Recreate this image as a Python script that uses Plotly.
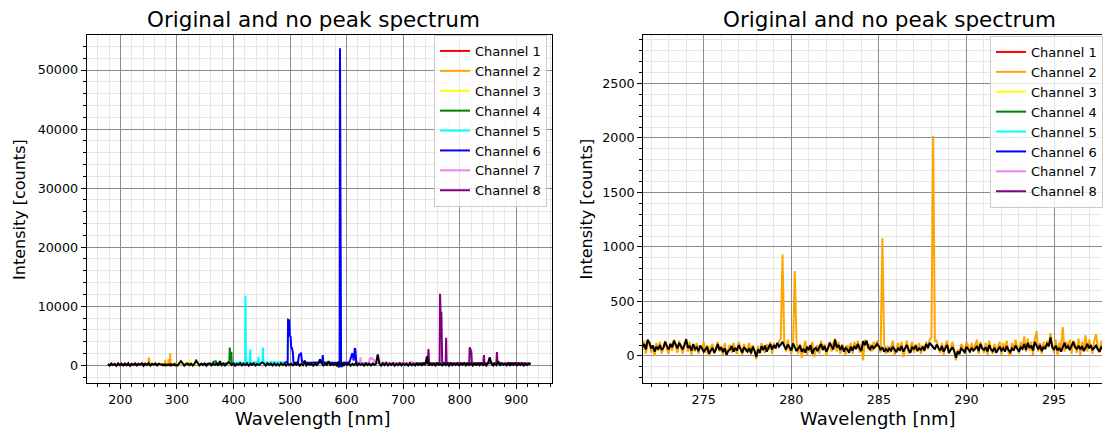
import numpy as np
import plotly.graph_objects as go

# ---------------- data ----------------
# "no peak" spectrum on a 3 nm grid (178 ... 925 nm)
NOPEAK_START = 178.0
NOPEAK_STEP = 3.0
nopeak_coarse = [
    220, -60, 310, 40, 260, -90, 330, 20, 280, -40,
    300, 10, 350, -80, 240, 60, 320, -30, 270, 80,
    340, -70, 290, 30, 360, -50, 250, 90, 310, -20,
    280, 150, 330, -60, 260, 40, 300, -10, 240, 70,
    320, -40, 270, 700, 350, -70, 230, 310, 20, 290,
    -50, 260, 800, 340, -30, 280, 50, 310, -80, 250,
    330, -20, 290, 60, 350, -60, 700, 10, 320, -40,
    270, 520, 340, 30, 300, -70, 260, 80, 350, -10,
    290, 20, 330, -50, 280, 70, 360, -30, 250, 40,
    310, 480, 270, -60, 340, 50, 290, -20, 320, 10,
    260, -40, 350, 60, 280, -70, 330, 30, 270, -10,
    300, 70, 340, -50, 260, 20, 600, -30, 310, 80,
    250, -60, 330, 40, 290, 1000, 350, -20, 270, 60,
    700, -40, 320, 30, 280, -70, 600, 50, 340, -10,
    290, 60, 350, -50, 260, 20, 330, -30, 300, 70,
    250, -60, 340, 40, 280, -20, 320, 60, 270, 1860,
    300, -50, 340, 20, 400, -30, 290, 70, 350, -60,
    260, 40, 330, -20, 300, 60, 270, -70, 350, 10,
    290, -40, 320, 50, 260, -10, 340, 30, 1500, -60,
    310, 20, 280, -50, 350, 60, 270, -30, 330, 40,
    290, -70, 340, 10, 260, 50, 320, -40, 300, 70,
    350, -20, 270, 30, 330, -60, 290, 60, 250, -10,
    320, 40, 280, -50, 340, 1350, 300, -30, 270, 20,
    700, -60, 330, 50, 290, -20, 350, 10, 260, 60,
    310, -40, 300, 30, 340, -70, 280, 40, 320, 150,
]

# finer 0.1 nm sampling between 271.5 and 298.0 nm
DETAIL_START = 271.5
DETAIL_STEP = 0.1
nopeak_detail = [
    80, 110, 60, 150, 120, 70, 95, 40, 85, 60,
    100, 55, 75, 130, 90, 60, 110, 80, 140, 95,
    70, 120, 85, 60, 100, 155, 75, 90, 50, 110,
    65, 80, 45, 95, 70, 40, 60, 85, 20, 50,
    75, 30, 60, 110, 55, 80, 35, 70, 10, 45,
    60, 90, 40, 75, 50, 100, 65, 30, 80, 55,
    40, 70, 25, 85, 50, -10, 60, 30, 90, 55,
    95, 40, 80, 110, 60, 100, 70, 120, 85, 110,
    130, 90, 60, 105, 75, 50, 115, 80, 45, 70,
    95, 40, 65, 30, 85, 55, 100, 20, 60, 75,
    45, 80, 110, 55, 90, 40, 70, 120, 85, 60,
    150, 80, 100, 55, 95, 40, 75, 60, 30, 85,
    50, 90, 65, 110, 70, 45, 135, 100, 140, 80,
    60, 95, 70, 85, 110, 90, 55, 80, 40, 65,
    45, 70, 50, 85, 60, 35, 75, 50, 90, 40,
    70, 100, 55, 30, 80, 65, 95, 45, 70, 55,
    85, 50, 110, 75, 120, 95, 80, 60, 105, 75,
    50, 90, 40, 70, 100, 30, 60, 80, 45, -15,
    40, 20, 70, 55, 35, 85, 60, 40, 75, 50,
    65, 90, 45, 110, 70, 55, 80, 40, 100, 60,
    45, 75, 30, 60, 85, 50, 70, 40, 90, 55,
    35, 70, 50, 95, 60, 40, 80, 65, 110, 55,
    120, 75, 95, 50, 130, 85, 60, 100, 45, 80,
    70, 110, 90, 170, 80, 60, 95, 50, 75, 40,
    85, 120, 70, 90, 55, 100, 130, 80, 65, 95,
    60, 90, 45, 75, 110, 70, 100, 55, 80, 95,
    60, 40, 85, 55, 70, 45,
]
ch2_detail = [
    60, 140, 20, 110, 130, 30, 100, 0, 120, 50,
    130, 20, 90, 140, 60, 20, 120, 50, 150, 80,
    30, 140, 70, 20, 120, 110, 40, 130, 10, 100,
    40, 120, 20, 90, 60, 130, 30, 100, 0, 80,
    110, 20, 70, 130, 40, 90, 10, 120, 20, 60,
    100, 30, 120, 50, 20, 130, 60, 10, 110, 40,
    70, 120, 10, 100, 40, -30, 90, 20, 120, 60,
    30, 110, 60, 130, 20, 120, 70, 100, 140, 160,
    930, 110, 40, 150, 60, 20, 100, 780, 130, 20,
    110, -20, 70, 140, 10, 90, 40, 130, -10, 60,
    100, 20, 140, 60, 110, 0, 90, 130, 40, 120,
    160, 40, 130, 20, 110, 60, 10, 100, 50, 120,
    20, 130, 60, 140, 30, 110, -40, 150, 120, 60,
    110, 40, 130, 80, 140, 70, 30, 1080, 110, 20,
    90, 30, 100, 140, 10, 70, 120, 40, 130, -10,
    60, 140, 20, 90, 130, 30, 110, 60, 120, 20,
    100, 40, 130, 60, 150, 170, 2020, 130, 140, 60,
    30, 120, 10, 100, 140, 20, 90, 130, 50, -40,
    60, 10, 110, 80, 20, 130, 90, 30, 120, 40,
    100, 150, 20, 130, 80, 30, 120, 10, 140, 60,
    20, 110, 40, 90, 130, 10, 120, 60, 140, 30,
    0, 120, 50, 150, 90, 20, 130, 60, 180, 40,
    160, 50, 130, 10, 150, 230, 40, 120, 20, 130,
    60, 140, 80, 210, 100, 30, 150, 0, 120, 70,
    265, 40, 130, 70, 150, 20, 140, 110, 30, 160,
    10, 130, 60, 190, 40, 150, 90, 20, 140, 200,
    80, 30, 140, 60, 110, 20,
]

ch1_wl = [178, 185, 192, 200, 208, 215, 222, 230, 238, 244, 248]
ch1_counts = [60, 20, 90, 40, 110, 30, 80, 150, 200, 260, 180]

ch2_wl_lo = [245, 248, 249.5, 250.2, 250.8, 251.5, 255, 259, 263, 267, 270]
ch2_counts_lo = [150, 220, 300, 1300, 1100, 250, 180, 120, 200, 140, 170]
ch2_wl_hi = [300.5, 303]
ch2_counts_hi = [150, 120]

ch3_wl = [300, 306, 312, 318, 321.4, 322, 322.6, 327, 331, 334.4, 335, 335.6, 340, 345]
ch3_counts = [150, 220, 180, 260, 300, 950, 300, 200, 250, 300, 1000, 280, 190, 160]

ch4_wl = [345, 352, 358, 363, 364.5, 366, 368.5, 370, 374, 380, 386,
          392.6, 393.4, 394.2, 395.6, 396.2, 397, 400]
ch4_counts = [160, 220, 180, 300, 600, 650, 700, 350, 250, 200, 300,
              400, 3000, 900, 1500, 2300, 400, 250]

ch5_wl = [400, 405, 410, 415, 420.4, 421.2, 422, 425, 428.8, 429.6, 430.4, 435, 440,
          443.4, 444.2, 445, 448, 451.2, 452, 452.8, 456, 460, 465, 466, 467, 472,
          478, 484, 490]
ch5_counts = [450, 400, 500, 420, 480, 11800, 500, 450, 480, 2700, 500, 420, 550,
              600, 1450, 520, 450, 500, 3000, 550, 480, 520, 450, 700, 480, 520,
              450, 500, 480]

ch6_wl = [490, 494, 495.8, 496.5, 498.5, 499.5, 501, 502, 503.5, 505, 506, 510, 514,
          515.5, 516.5, 518.5, 519.5, 521, 524, 526, 527.5, 535, 545, 552, 557, 557.8,
          558.8, 565, 575, 583, 586.8, 587.6, 588.3, 588.9, 589.5, 590.2, 591, 595,
          600, 605, 609.5, 610.5, 612.5, 614.5, 615.5, 617, 620]
ch6_counts = [450, 500, 600, 7700, 7600, 5000, 4800, 3000, 2900, 2100, 500, 450, 500,
              1500, 1800, 1900, 2150, 600, 500, 800, 450, 420, 450, 500, 500, 1750,
              500, 450, 480, 450, -340, 400, 53700, 3000, 43300, 400, -300, 480,
              450, 500, 1900, 2000, 800, 2900, 2700, 500, 450]

ch7_wl = [620, 623.5, 624.5, 625.5, 628, 633, 638, 640.2, 641, 642, 643.5, 645, 646.5,
          648.5, 649.5, 652, 660, 670, 680, 690, 700, 710, 714, 715, 716, 720]
ch7_counts = [400, 450, 1350, 450, 400, 380, 450, 600, 1200, 1100, 1250, 1200, 1000,
              900, 450, 400, 420, 380, 400, 420, 380, 400, 420, 550, 400, 380]

ch8_wl = [720, 728, 736, 742.5, 744, 744.8, 745.8, 750, 756, 762, 764.4, 765.2, 766.2,
          767.6, 768.2, 769, 772, 775.2, 776, 776.8, 782, 790, 800, 810, 816.8, 817.6,
          819.5, 820.5, 821.5, 826, 834, 841.8, 842.8, 843.8, 850, 858, 864.8, 865.8,
          866.8, 872, 880, 890, 900, 910, 920, 926]
ch8_counts = [300, 350, 300, 380, 1600, 2750, 400, 350, 300, 380, 450, 12100, 8900,
              8900, 500, 450, 380, 450, 4680, 450, 350, 380, 300, 350, 380, 3050,
              2700, 2300, 450, 350, 380, 380, 1750, 380, 350, 380, 380, 2250,
              450, 350, 300, 380, 350, 300, 350, 300]

channel_names = [f"Channel {i}" for i in range(1, 9)]
channel_colors = ["red", "orange", "yellow", "green", "cyan", "blue", "violet", "purple"]

# ---------------- assemble series ----------------
wl_coarse = np.round(NOPEAK_START + NOPEAK_STEP * np.arange(len(nopeak_coarse)), 3)
wl_detail = np.round(DETAIL_START + DETAIL_STEP * np.arange(len(nopeak_detail)), 3)
outside = (wl_coarse < wl_detail[0]) | (wl_coarse > wl_detail[-1])
nopeak_wl = np.concatenate([wl_coarse[outside], wl_detail])
nopeak_val = np.concatenate([np.asarray(nopeak_coarse)[outside], nopeak_detail])
order = np.argsort(nopeak_wl, kind="stable")
nopeak_wl, nopeak_val = nopeak_wl[order], nopeak_val[order]

ch2_wl = list(ch2_wl_lo) + list(wl_detail) + list(ch2_wl_hi)
ch2_counts = list(ch2_counts_lo) + list(ch2_detail) + list(ch2_counts_hi)

channels = [
    (ch1_wl, ch1_counts), (ch2_wl, ch2_counts), (ch3_wl, ch3_counts),
    (ch4_wl, ch4_counts), (ch5_wl, ch5_counts), (ch6_wl, ch6_counts),
    (ch7_wl, ch7_counts), (ch8_wl, ch8_counts),
]

# ---------------- figure ----------------
W, H = 1103, 432
FONT = "DejaVu Sans"
LW = 2.0

fig = go.Figure()
for xa, ya, lg in [("x", "y", "legend"), ("x2", "y2", "legend2")]:
    for (wl, counts), name, color in zip(channels, channel_names, channel_colors):
        fig.add_trace(go.Scatter(x=wl, y=counts, mode="lines", name=name,
                                 line=dict(color=color, width=LW),
                                 xaxis=xa, yaxis=ya, legend=lg, showlegend=True))
    fig.add_trace(go.Scatter(x=nopeak_wl, y=nopeak_val, mode="lines",
                             line=dict(color="black", width=LW),
                             xaxis=xa, yaxis=ya, showlegend=False))

def px_x(p):
    return p / W

def px_y(p):
    return (H - p) / H

Y_DOMAIN = [px_y(383), px_y(35)]

def axis_style(dtick, minor_dtick, mirror, **kw):
    d = dict(
        showline=True, linecolor="black", linewidth=1, mirror=mirror,
        ticks="outside", ticklen=5, tickwidth=1, tickcolor="black",
        showgrid=True, gridcolor="#8c8c8c", gridwidth=1, zeroline=False,
        dtick=dtick, tick0=0,
        tickfont=dict(family=FONT, size=12.7, color="black"),
        minor=dict(ticks="outside", ticklen=3, tickwidth=1, tickcolor="black",
                   showgrid=True, gridcolor="#e6e6e6", gridwidth=1,
                   dtick=minor_dtick, tick0=0),
    )
    d.update(kw)
    return d

legend_style = dict(
    xanchor="left", yanchor="top",
    bgcolor="rgba(255,255,255,0.8)", bordercolor="#cccccc", borderwidth=1,
    font=dict(family=FONT, size=13, color="black"),
)

fig.update_layout(
    width=W, height=H,
    margin=dict(l=0, r=0, t=0, b=0),
    paper_bgcolor="white", plot_bgcolor="white",
    xaxis=axis_style(100, 20, True, domain=[px_x(86.7), px_x(552.3)],
                     range=[140.3, 962.8], anchor="y"),
    yaxis=axis_style(10000, 2000, True, domain=Y_DOMAIN,
                     range=[-2997, 55926], tickformat="d", anchor="x"),
    xaxis2=axis_style(5, 1, True, domain=[px_x(643.7), 1.0],
                      range=[271.54, 297.74], anchor="y2"),
    yaxis2=axis_style(500, 100, False, domain=Y_DOMAIN,
                      range=[-248, 2945], tickformat="d", anchor="x2"),
    legend=dict(x=px_x(434), y=px_y(35), **legend_style),
    legend2=dict(x=px_x(991), y=px_y(36), **legend_style),
    showlegend=True,
)

def label(text, x, y, size, angle=0):
    fig.add_annotation(text=text, x=px_x(x), y=px_y(y), xref="paper", yref="paper",
                       showarrow=False, textangle=angle, xanchor="center",
                       yanchor="middle", font=dict(family=FONT, size=size, color="black"))

TITLE = "Original and no peak spectrum"
label(TITLE, 313.5, 19.5, 21.5)
label(TITLE, 890, 19.5, 21.5)
label("Wavelength [nm]", 313.4, 418.5, 18)
label("Wavelength [nm]", 879, 418.5, 18)
label("Intensity [counts]", 19, 209, 16, -90)
label("Intensity [counts]", 587, 209, 16, -90)

fig.write_html("out.html")
